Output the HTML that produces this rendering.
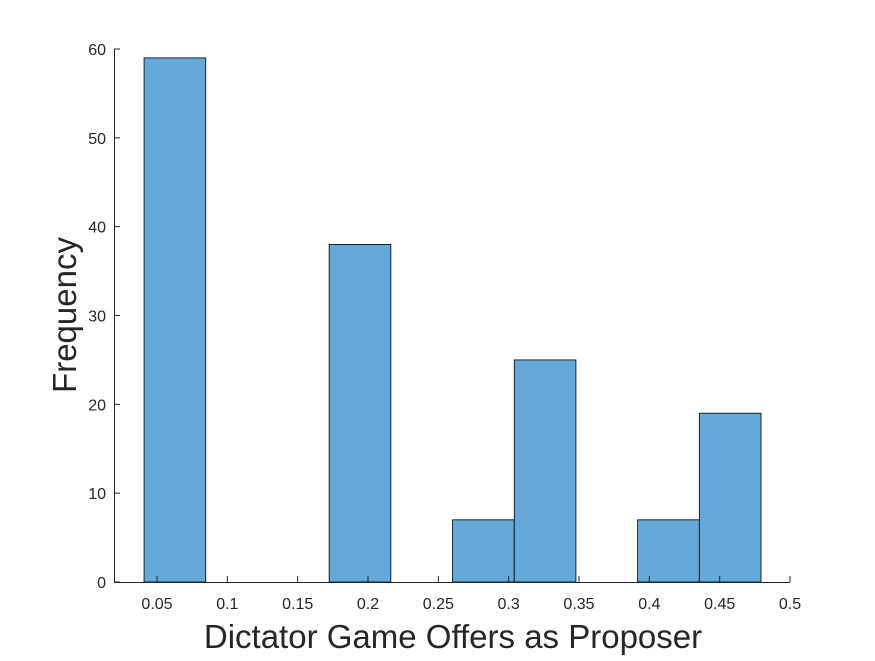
<!DOCTYPE html>
<html><head><meta charset="utf-8"><style>
body{margin:0;background:#fff;}
svg text{font-family:"Liberation Sans",Arial,sans-serif;fill:#262626;}
</style></head><body>
<svg id="chart" width="875" height="656" xmlns="http://www.w3.org/2000/svg">
<rect width="875" height="656" fill="#fff"/>
<g id="bars"></g>
<g id="axes"></g>
<text x="453" y="648" font-size="33" text-anchor="middle">Dictator Game Offers as Proposer</text>
<text transform="translate(76,315) rotate(-90)" font-size="33" text-anchor="middle">Frequency</text>
</svg>
<script>
const binStart = 0.0408;
const binWidth = 0.04386;
const counts = [59, 0, 0, 38, 0, 7, 25, 0, 7, 19];
const xTicks = [0.05, 0.1, 0.15, 0.2, 0.25, 0.3, 0.35, 0.4, 0.45, 0.5];
const xTickLabels = ["0.05","0.1","0.15","0.2","0.25","0.3","0.35","0.4","0.45","0.5"];
const yTicks = [0, 10, 20, 30, 40, 50, 60];

const NS = "http://www.w3.org/2000/svg";
const x = v => 157 + (v - 0.05) * (633 / 0.45);
const y = v => 582 - v * (533 / 60);
const xMin = 114, xMax = 790, yTop = 49, yBase = 582;

const bars = document.getElementById('bars');
counts.forEach((c, i) => {
  if (c <= 0) return;
  const r = document.createElementNS(NS, 'rect');
  const x0 = x(binStart + i * binWidth), x1 = x(binStart + (i + 1) * binWidth);
  r.setAttribute('x', x0); r.setAttribute('y', y(c));
  r.setAttribute('width', x1 - x0); r.setAttribute('height', y(0) - y(c));
  r.setAttribute('fill', '#64a9d8'); r.setAttribute('stroke', '#000'); r.setAttribute('stroke-width', '0.8');
  
  
  bars.appendChild(r);
});

const axes = document.getElementById('axes');
function line(x1, y1, x2, y2, name) {
  const l = document.createElementNS(NS, 'line');
  l.setAttribute('x1', x1); l.setAttribute('y1', y1); l.setAttribute('x2', x2); l.setAttribute('y2', y2);
  l.setAttribute('stroke', '#262626'); l.setAttribute('stroke-width', '1');
  
  
  axes.appendChild(l);
}
line(xMin, yBase + 0.5, xMax, yBase + 0.5, 'x-axis-line');
line(xMin + 0.5, yTop, xMin + 0.5, yBase, 'y-axis-line');
xTicks.forEach((t, i) => {
  const px = x(t);
  line(px, yBase, px, yBase - 6, 'x-tick');
  const tx = document.createElementNS(NS, 'text');
  tx.setAttribute('x', px); tx.setAttribute('y', 609); tx.setAttribute('font-size', '16');
  tx.setAttribute('text-anchor', 'middle'); tx.textContent = xTickLabels[i];
  
  
  axes.appendChild(tx);
});
yTicks.forEach(t => {
  const py = y(t);
  line(xMin, py, xMin + 6, py, 'y-tick');
  const tx = document.createElementNS(NS, 'text');
  tx.setAttribute('x', 106); tx.setAttribute('y', py + 6); tx.setAttribute('font-size', '16');
  tx.setAttribute('text-anchor', 'end'); tx.textContent = t;
  
  
  axes.appendChild(tx);
});
</script>
</body></html>
